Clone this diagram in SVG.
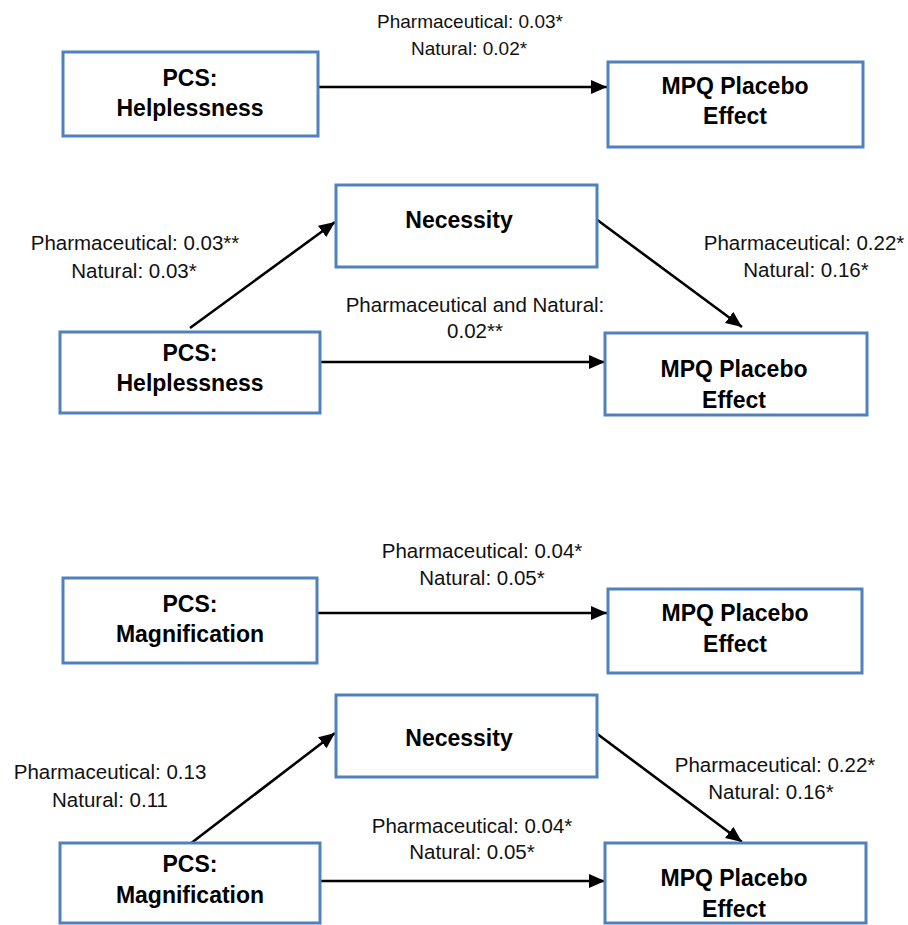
<svg xmlns="http://www.w3.org/2000/svg" width="908" height="925" viewBox="0 0 908 925">
<defs>
<marker id="ah" markerUnits="userSpaceOnUse" markerWidth="17" markerHeight="15" refX="16" refY="7" orient="auto">
<path d="M0,0 L16,7 L0,14 z" fill="#000"/>
</marker>
<style>
.box{fill:#fff;stroke:#4F81BD;stroke-width:3}
.t{font-family:"Liberation Sans",Arial,sans-serif;font-weight:bold;font-size:23px;fill:#000;text-anchor:middle}
.l{font-family:"Liberation Sans",Arial,sans-serif;font-size:20.5px;fill:#111;text-anchor:middle}
.c{stroke:#000;stroke-width:2.6;fill:none;marker-end:url(#ah)}
</style>
</defs>
<rect width="908" height="925" fill="#fff"/>
<g id="connectors">
<line class="c" x1="318" y1="87" x2="607" y2="87"/>
<line class="c" x1="190" y1="328" x2="335" y2="222"/>
<line class="c" x1="596" y1="219" x2="742" y2="327"/>
<line class="c" x1="320" y1="362" x2="605" y2="362"/>
<line class="c" x1="318" y1="613" x2="607" y2="613"/>
<line class="c" x1="190" y1="844" x2="335" y2="733"/>
<line class="c" x1="596" y1="733" x2="742" y2="842"/>
<line class="c" x1="320" y1="881" x2="605" y2="881"/>
</g>
<g id="labels">
<text class="l" x="470" y="28" style="font-size:19px">Pharmaceutical: 0.03*</text>
<text class="l" x="469" y="55" style="font-size:19px">Natural: 0.02*</text>
<text class="l" x="135" y="250">Pharmaceutical: 0.03**</text>
<text class="l" x="134" y="278">Natural: 0.03*</text>
<text class="l" x="475" y="312">Pharmaceutical and Natural:</text>
<text class="l" x="475" y="338">0.02**</text>
<text class="l" x="804" y="250">Pharmaceutical: 0.22*</text>
<text class="l" x="806" y="277">Natural: 0.16*</text>
<text class="l" x="482" y="558">Pharmaceutical: 0.04*</text>
<text class="l" x="482" y="585">Natural: 0.05*</text>
<text class="l" x="110" y="779">Pharmaceutical: 0.13</text>
<text class="l" x="110" y="807">Natural: 0.11</text>
<text class="l" x="472" y="833">Pharmaceutical: 0.04*</text>
<text class="l" x="472" y="859">Natural: 0.05*</text>
<text class="l" x="775" y="772">Pharmaceutical: 0.22*</text>
<text class="l" x="771" y="799">Natural: 0.16*</text>
</g>
<g id="pcs1">
<rect class="box" x="63" y="52" width="255" height="84"/>
<text class="t" x="190" y="86">PCS:</text>
<text class="t" x="190" y="116">Helplessness</text>
</g>
<g id="mpq1">
<rect class="box" x="608" y="62" width="255" height="85"/>
<text class="t" x="735" y="94">MPQ Placebo</text>
<text class="t" x="735" y="124">Effect</text>
</g>
<g id="nec2">
<rect class="box" x="336" y="185" width="261" height="82"/>
<text class="t" x="459" y="228">Necessity</text>
</g>
<g id="pcs2">
<rect class="box" x="60" y="332" width="260" height="81"/>
<text class="t" x="190" y="361">PCS:</text>
<text class="t" x="190" y="391">Helplessness</text>
</g>
<g id="mpq2">
<rect class="box" x="605" y="333" width="262" height="82"/>
<text class="t" x="734" y="377">MPQ Placebo</text>
<text class="t" x="734" y="408">Effect</text>
</g>
<g id="pcs3">
<rect class="box" x="63" y="578" width="254" height="85"/>
<text class="t" x="190" y="612">PCS:</text>
<text class="t" x="190" y="642">Magnification</text>
</g>
<g id="mpq3">
<rect class="box" x="608" y="589" width="254" height="84"/>
<text class="t" x="735" y="621">MPQ Placebo</text>
<text class="t" x="735" y="652">Effect</text>
</g>
<g id="nec4">
<rect class="box" x="336" y="695" width="261" height="82"/>
<text class="t" x="459" y="746">Necessity</text>
</g>
<g id="pcs4">
<rect class="box" x="60" y="843" width="260" height="80"/>
<text class="t" x="190" y="872">PCS:</text>
<text class="t" x="190" y="903">Magnification</text>
</g>
<g id="mpq4">
<rect class="box" x="605" y="843" width="261" height="80"/>
<text class="t" x="734" y="886">MPQ Placebo</text>
<text class="t" x="734" y="917">Effect</text>
</g>
</svg>
